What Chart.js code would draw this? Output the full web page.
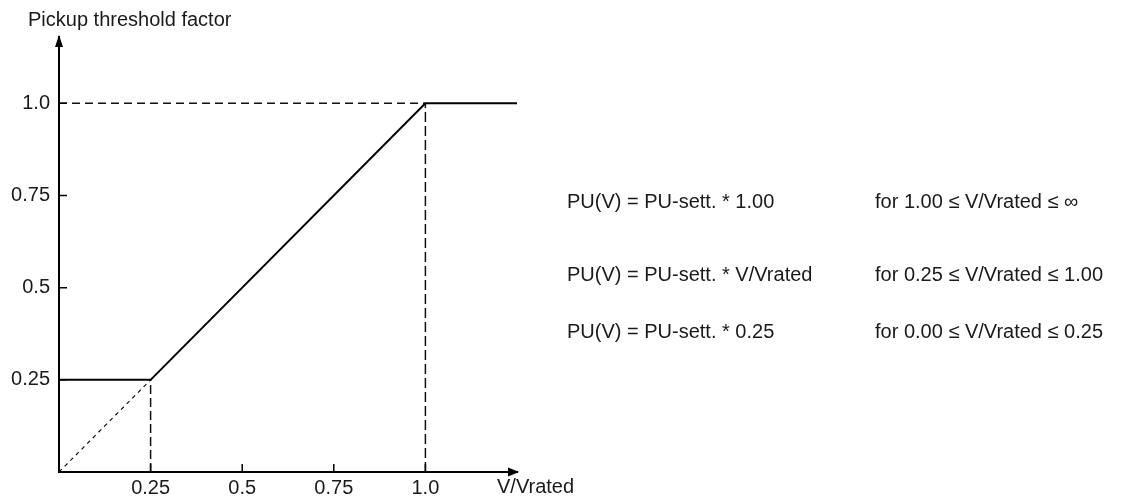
<!DOCTYPE html>
<html>
<head>
<meta charset="utf-8">
<script src="https://cdn.jsdelivr.net/npm/chart.js@4.4.0/dist/chart.umd.min.js"></script>
<style>
  html, body { margin: 0; padding: 0; background: #fff; }
  #wrap { width: 1125px; height: 497px; }
</style>
</head>
<body>
<div id="wrap"><canvas id="myChart"></canvas></div>
<script>
Chart.defaults.font.family = '"Liberation Sans", Arial, sans-serif';
Chart.defaults.font.size = 20;
Chart.defaults.color = '#1a1a1a';

// characteristic: V/Vrated -> pickup threshold factor
const curveV = [0, 0.25, 1.0, 1.25];
const curveFactor = [0.25, 0.25, 1.0, 1.0];

// knee points, used for the dashed guide lines
const lowKnee = 0.25;
const highKnee = 1.0;

// axis ticks
const xTicks = [0.25, 0.5, 0.75, 1.0];
const xTickLabels = ['0.25', '0.5', '0.75', '1.0'];
const yTicks = [0.25, 0.5, 0.75, 1.0];
const yTickLabels = ['0.25', '0.5', '0.75', '1.0'];

const xTitle = 'V/Vrated';
const yTitle = 'Pickup threshold factor';

// formulas shown on the right
const formulas = ['PU(V) = PU-sett. * 1.00', 'PU(V) = PU-sett. * V/Vrated', 'PU(V) = PU-sett. * 0.25'];
const ranges = ['for 1.00 ≤ V/Vrated ≤ ∞', 'for 0.25 ≤ V/Vrated ≤ 1.00', 'for 0.00 ≤ V/Vrated ≤ 0.25'];

const pts = (xs, ys) => xs.map((v, i) => ({ x: v, y: ys[i] }));

const guide = (data, dash, width) => ({
  data,
  borderColor: '#111',
  borderWidth: width,
  borderDash: dash,
  pointRadius: 0,
  showLine: true,
  clip: false
});

// setup
const data = {
  datasets: [
    {
      label: 'PU(V)',
      data: pts(curveV, curveFactor),
      borderColor: '#000',
      borderWidth: 2,
      pointRadius: 0,
      showLine: true,
      clip: false
    },
    guide(pts([0, highKnee], [highKnee, highKnee]), [8, 5], 1.5),
    guide(pts([highKnee, highKnee], [0, highKnee]), [10, 4], 1.5),
    guide(pts([lowKnee, lowKnee], [0, lowKnee]), [9, 4], 1.5),
    guide(pts([0, lowKnee], [0, lowKnee]), [4, 4], 1.2)
  ]
};

// arrows, inner tick marks and free text
const decor = {
  id: 'decor',
  afterDraw(chart) {
    const ctx = chart.ctx;
    const { left, right, top, bottom } = chart.chartArea;
    const xs = chart.scales.x, ys = chart.scales.y;
    ctx.save();
    ctx.strokeStyle = '#000';
    ctx.fillStyle = '#000';
    ctx.lineWidth = 1.5;

    ctx.beginPath();
    xTicks.forEach(v => {
      const px = xs.getPixelForValue(v);
      ctx.moveTo(px, bottom);
      ctx.lineTo(px, bottom - 8);
    });
    yTicks.forEach(v => {
      const py = ys.getPixelForValue(v);
      ctx.moveTo(left, py);
      ctx.lineTo(left + 8, py);
    });
    ctx.stroke();

    // arrow heads
    ctx.beginPath();
    ctx.moveTo(left, top - 2);
    ctx.lineTo(left - 4, top + 10);
    ctx.lineTo(left + 4, top + 10);
    ctx.closePath();
    ctx.fill();
    ctx.beginPath();
    ctx.moveTo(right + 2, bottom);
    ctx.lineTo(right - 9, bottom - 4.5);
    ctx.lineTo(right - 9, bottom + 4.5);
    ctx.closePath();
    ctx.fill();

    ctx.fillStyle = '#1a1a1a';
    ctx.font = '20px "Liberation Sans", Arial, sans-serif';
    ctx.textAlign = 'left';
    ctx.textBaseline = 'alphabetic';
    ctx.fillText(yTitle, 28, 26);
    ctx.fillText(xTitle, 497, 493);

    const rowY = [208, 281, 338];
    formulas.forEach((t, i) => ctx.fillText(t, 567, rowY[i]));
    ranges.forEach((t, i) => ctx.fillText(t, 875, rowY[i]));
    ctx.restore();
  }
};

// config
const config = {
  type: 'scatter',
  data,
  options: {
    responsive: true,
    maintainAspectRatio: false,
    devicePixelRatio: 1,
    animation: false,
    layout: { padding: { top: 37, right: 608, left: 0, bottom: 0 } },
    plugins: {
      legend: { display: false },
      tooltip: { enabled: false }
    },
    scales: {
      x: {
        type: 'linear',
        min: 0,
        max: 1.25,
        grid: { display: false, drawTicks: false },
        border: { display: true, color: '#000', width: 2 },
        ticks: {
          padding: 4,
          autoSkip: false,
          maxRotation: 0,
          callback: (v, i) => xTickLabels[i]
        },
        afterBuildTicks: s => { s.ticks = xTicks.map(v => ({ value: v })); },
        afterFit: s => { s.height = 25; }
      },
      y: {
        type: 'linear',
        min: 0,
        max: 1.18,
        grid: { display: false, drawTicks: false },
        border: { display: true, color: '#000', width: 2 },
        ticks: {
          padding: 9,
          autoSkip: false,
          callback: (v, i) => yTickLabels[i]
        },
        afterBuildTicks: s => { s.ticks = yTicks.map(v => ({ value: v })); },
        afterFit: s => { s.width = 59; }
      }
    }
  },
  plugins: [decor]
};

// render init block
const myChart = new Chart(document.getElementById('myChart'), config);
</script>
</body>
</html>
